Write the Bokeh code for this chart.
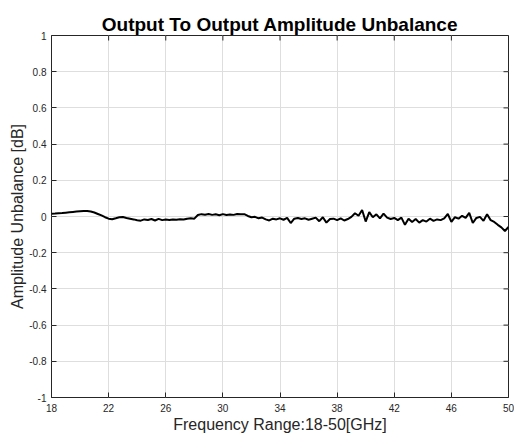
import numpy as np
from bokeh.plotting import figure
from bokeh.models import FixedTicker, Range1d
from bokeh.embed import file_html
from bokeh.resources import INLINE

# ---- data ----
freq_ghz = np.round(np.arange(18.0, 50.0001, 0.25), 2)
unbalance_db = [
    0.015, 0.016, 0.018, 0.019,     # 18
    0.021, 0.023, 0.025, 0.027,     # 19
    0.029, 0.030, 0.031, 0.028,     # 20
    0.022, 0.014, 0.006, -0.004,    # 21
    -0.012, -0.015, -0.010, -0.004, # 22
    -0.003, -0.008, -0.012, -0.016, # 23
    -0.021, -0.023, -0.016, -0.019, # 24
    -0.014, -0.022, -0.013, -0.020, # 25
    -0.017, -0.019, -0.016, -0.018, # 26
    -0.015, -0.017, -0.012, -0.010, # 27
    -0.012, 0.008, 0.013, 0.010,    # 28
    0.014, 0.009, 0.012, 0.007,     # 29
    0.013, 0.008, 0.011, 0.009,     # 30
    0.014, 0.012, 0.013, 0.003,     # 31
    -0.004, -0.002, -0.010, -0.006, # 32
    -0.016, -0.022, -0.012, -0.016, # 33
    -0.010, -0.018, -0.008, -0.036, # 34
    -0.012, -0.008, -0.014, -0.010, # 35
    -0.018, -0.012, -0.006, -0.026, # 36
    -0.004, -0.034, -0.014, -0.012, # 37
    -0.020, -0.010, -0.022, -0.014, # 38
    -0.002, 0.018, 0.004, 0.036,    # 39
    -0.028, 0.024, -0.004, 0.012,   # 40
    -0.010, 0.016, -0.006, -0.014,  # 41
    -0.008, -0.020, -0.006, -0.046, # 42
    -0.012, -0.030, -0.014, -0.034, # 43
    -0.020, -0.028, -0.012, -0.024, # 44
    -0.016, -0.020, -0.010, 0.014,  # 45
    -0.030, -0.004, -0.012, 0.004,  # 46
    -0.008, 0.020, -0.036, -0.008,  # 47
    -0.002, -0.024, 0.012, -0.020,  # 48
    -0.030, -0.046, -0.060, -0.080, # 49
    -0.058,                         # 50
]
x_ticks = [18, 22, 26, 30, 34, 38, 42, 46, 50]
y_ticks = [-1, -0.8, -0.6, -0.4, -0.2, 0, 0.2, 0.4, 0.6, 0.8, 1]
y_tick_labels = ["-1", "-0.8", "-0.6", "-0.4", "-0.2", "0", "0.2", "0.4", "0.6", "0.8", "1"]
x_lim = (18, 50)
y_lim = (-1, 1)

FONT = "Liberation Sans"
TXT = "#262626"

p = figure(width=514, height=438, output_backend="svg", toolbar_location=None,
           x_range=Range1d(*x_lim), y_range=Range1d(*y_lim),
           min_border_left=51, min_border_right=6, min_border_top=35, min_border_bottom=41,
           background_fill_color="white", border_fill_color="white")

p.title.text = "Output To Output Amplitude Unbalance"
p.title.align = "center"
p.title.text_font = FONT
p.title.text_font_style = "bold"
p.title.text_font_size = "19px"
p.title.text_color = "black"
p.title.standoff = 2

p.outline_line_color = TXT
p.outline_line_width = 1

for ax in (p.xaxis[0], p.yaxis[0]):
    ax.major_label_text_font = FONT
    ax.major_label_text_font_size = "10px"
    ax.major_label_text_color = TXT
    ax.axis_label_text_font = FONT
    ax.axis_label_text_font_size = "16px"
    ax.axis_label_text_font_style = "normal"
    ax.axis_label_text_color = TXT
    ax.major_tick_in = 5
    ax.major_tick_out = 0
    ax.major_tick_line_color = TXT
    ax.minor_tick_line_color = None
    ax.axis_line_color = None

p.xaxis.ticker = FixedTicker(ticks=x_ticks)
p.xaxis.axis_label = "Frequency Range:18-50[GHz]"
p.xaxis.major_label_standoff = 6
p.xaxis.axis_label_standoff = 1

p.yaxis.ticker = FixedTicker(ticks=y_ticks)
p.yaxis.major_label_overrides = dict(zip(y_ticks, y_tick_labels))
p.yaxis.axis_label = "Amplitude Unbalance [dB]"
p.yaxis.major_label_standoff = 5
p.yaxis.axis_label_standoff = 0

p.xgrid.ticker = FixedTicker(ticks=x_ticks)
p.ygrid.ticker = FixedTicker(ticks=y_ticks)
p.grid.grid_line_color = "#dedede"
p.grid.grid_line_width = 1

# inward ticks on the top and right edges of the box
p.ray(x=x_ticks, y=[y_lim[1]] * len(x_ticks), length=5, length_units="screen",
      angle=-np.pi / 2, line_color=TXT, line_width=1)
p.ray(x=[x_lim[1]] * len(y_ticks), y=y_ticks, length=5, length_units="screen",
      angle=np.pi, line_color=TXT, line_width=1)

p.line(freq_ghz, unbalance_db, line_color="black", line_width=2)

open("out.html", "w").write(file_html(p, INLINE))
